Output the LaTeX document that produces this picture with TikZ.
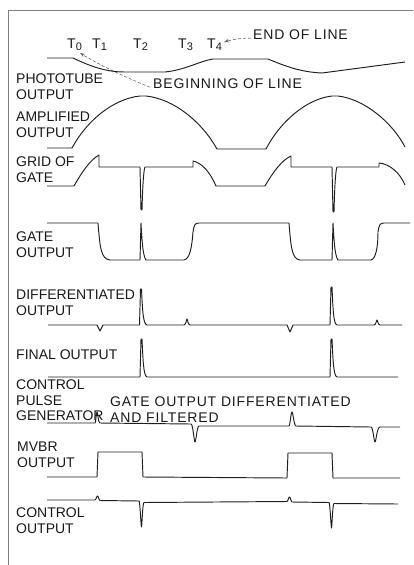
\documentclass[tikz,border=0pt]{standalone}
\usepackage{fontspec}
\setmainfont{Liberation Sans}
\newfontfamily\widefont{Liberation Sans}[LetterSpace=6]
\usetikzlibrary{arrows.meta}
\begin{document}
\begin{tikzpicture}[x=1pt,y=-1pt,
  lbl/.style={anchor=north west, inner sep=0pt, align=left,
    font=\fontsize{14}{15.5}\selectfont, text=black!90},
  tlbl/.style={anchor=base west, inner sep=0pt, font=\fontsize{14}{15.5}\selectfont, text=black!90},
  wide/.style={font=\widefont\fontsize{14}{15.5}\selectfont},
  trace/.style={draw=black!88, line width=0.95pt, line join=round},
  frame/.style={draw=black!50, line width=1pt},
  dasharrow/.style={draw=black!60, line width=0.6pt, dash pattern=on 3pt off 2pt,
    -{Stealth[length=5pt,width=3.5pt]}}]
\useasboundingbox (0,0) rectangle (413,565);
% frame
\draw[frame] (8,565) -- (8,10) -- (413,10);

% top labels
\node[tlbl] (t0) at (67,48) {T\raisebox{-2.5pt}{\fontsize{11}{12}\selectfont 0}};
\node[tlbl] (t1) at (92,48) {T\raisebox{-2.5pt}{\fontsize{11}{12}\selectfont 1}};
\node[tlbl] (t2) at (133,48) {T\raisebox{-2.5pt}{\fontsize{11}{12}\selectfont 2}};
\node[tlbl] (t3) at (178,48) {T\raisebox{-2.5pt}{\fontsize{11}{12}\selectfont 3}};
\node[tlbl] (t4) at (207,48) {T\raisebox{-2.5pt}{\fontsize{11}{12}\selectfont 4}};
\node[tlbl,wide] (eol) at (253,39) {END OF LINE};
\node[tlbl,wide] (bol) at (153,88) {BEGINNING OF LINE};
\coordinate (a0) at (80,53);
\coordinate (a4) at (224,42);
\draw[dasharrow] ([xshift=-2pt,yshift=-4pt]eol.west) to[bend right=8] (a4);
\draw[dasharrow] ([xshift=-3pt,yshift=-4pt]bol.west) .. controls (122,76) and (98,64) .. (a0);

% left labels
\node[lbl] (l1) at (16,74) {PHOTOTUBE\\OUTPUT};
\node[lbl] (l2) at (16,112) {AMPLIFIED\\OUTPUT};
\node[lbl] (l3) at (16,157) {GRID OF\\GATE};
\node[lbl] (l4) at (16,232) {GATE\\OUTPUT};
\node[lbl] (l5) at (16,290) {DIFFERENTIATED\\OUTPUT};
\node[lbl] (l6) at (16,350) {FINAL OUTPUT};
\node[lbl] (l7) at (16,380) {CONTROL\\PULSE\\GENERATOR};
\node[lbl,wide] (l8) at (110,397) {GATE OUTPUT DIFFERENTIATED\\AND FILTERED};
\node[lbl] (l9) at (17,442) {MVBR\\OUTPUT};
\node[lbl] (l10) at (16,508) {CONTROL\\OUTPUT};

% phototube output
\draw[trace] (47,58) -- (73,58) .. controls (90,66) and (105,72) .. (125,72) -- (165,72)
  .. controls (185,70) and (200,61) .. (213,59) -- (268,59)
  .. controls (285,66) and (300,72) .. (322,73) -- (405,62);

% amplified output
\draw[trace] (47,148) -- (72,148) .. controls (86,122) and (112,99) .. (140,96) -- (146,96)
  .. controls (174,99) and (202,122) .. (217,149) -- (266,149)
  .. controls (280,122) and (306,99) .. (332,96) -- (338,96)
  .. controls (364,99) and (392,122) .. (405,147);

% grid of gate
\draw[trace] (47,186) -- (74,186) .. controls (82,172) and (90,160) .. (99,155) -- (99,167)
  -- (140,167) -- (141,210) -- (142,210) .. controls (142.5,190) and (143.5,170) .. (145,167)
  -- (193,167) -- (193,161) .. controls (202,163) and (210,172) .. (216,186) -- (265,186)
  .. controls (273,172) and (282,160) .. (291,156) -- (291,167)
  -- (332,167) -- (333,212) -- (334,212) .. controls (334.5,190) and (335.5,170) .. (337,167)
  -- (379,167) -- (379,163) .. controls (390,164) and (400,173) .. (405,185);

% gate output
\draw[trace] (47,223) -- (98,223) .. controls (100,248) and (101,259) .. (110,260) -- (140,260)
  -- (141,223) .. controls (142,242) and (143,256) .. (146,260) -- (184,260)
  .. controls (190,259) and (192,246) .. (193,232) .. controls (194,225) and (195,223) .. (199,223)
  -- (289,223) .. controls (291,248) and (292,259) .. (300,260) -- (332,260)
  -- (333,223) .. controls (334,242) and (335,256) .. (338,260) -- (371,260)
  .. controls (376,259) and (378,246) .. (378,232) .. controls (379,225) and (380,223) .. (384,223)
  -- (410,223);

% differentiated output
\draw[trace] (48,325) -- (97,325) -- (100,331) -- (103,325) -- (139.5,325) -- (140.5,289)
  -- (141.5,289) .. controls (142.5,310) and (143,324) .. (147,325) -- (184,325)
  .. controls (186,325) and (186.5,319) .. (187,319) .. controls (187.5,319) and (188,325) .. (190,325)
  -- (287,325) -- (290,332) -- (293,325) -- (330,325) -- (331,287) -- (332,287)
  .. controls (333,310) and (333.5,324) .. (337,325) -- (374,325)
  .. controls (376,325) and (376.5,320) .. (377,320) .. controls (377.5,320) and (378,325) .. (380,325)
  -- (402,325);

% final output
\draw[trace] (48,377) -- (140,377) -- (141,339) -- (142,339) .. controls (143,360) and (143.5,376) .. (147,377)
  -- (330,377) -- (331,339) -- (332,339) .. controls (333,360) and (333.5,376) .. (337,377) -- (398,377);

% control pulse generator
\draw[trace] (47,423) -- (95,423) .. controls (96,423) and (96,412) .. (97,412)
  .. controls (98,412) and (98,423) .. (100,423) -- (191,424)
  .. controls (193,424) and (194,442) .. (195,442) .. controls (196,442) and (197,426) .. (199,426)
  -- (289,426) .. controls (290,426) and (291,412) .. (292,412) .. controls (293,412) and (294,426) .. (296,426)
  -- (371,427) .. controls (373,427) and (374,442) .. (375,442) .. controls (376,442) and (377,427) .. (380,427)
  -- (400,427);

% MVBR output
\draw[trace] (47,477) -- (97,477) -- (98,452) -- (142,452) -- (143,477) -- (287,478) -- (288,453)
  -- (332,453) -- (333,478) -- (400,478);

% control output
\draw[trace] (47,500) -- (95,500) .. controls (96,500) and (96.5,496) .. (97.5,496)
  .. controls (98.5,496) and (99,500.5) .. (100,500.5) -- (139,501)
  .. controls (140,501) and (141,527) .. (141.5,527) .. controls (142,527) and (142.5,503) .. (144,502.5)
  -- (287,501.5) .. controls (288,501.5) and (288.5,497) .. (289.5,497)
  .. controls (290.5,497) and (291,502) .. (292,502) -- (329,502.5)
  .. controls (330,502.5) and (331,528) .. (331.5,528) .. controls (332,528) and (332.5,504) .. (334,503.5)
  -- (398,504);
\end{tikzpicture}
\end{document}
